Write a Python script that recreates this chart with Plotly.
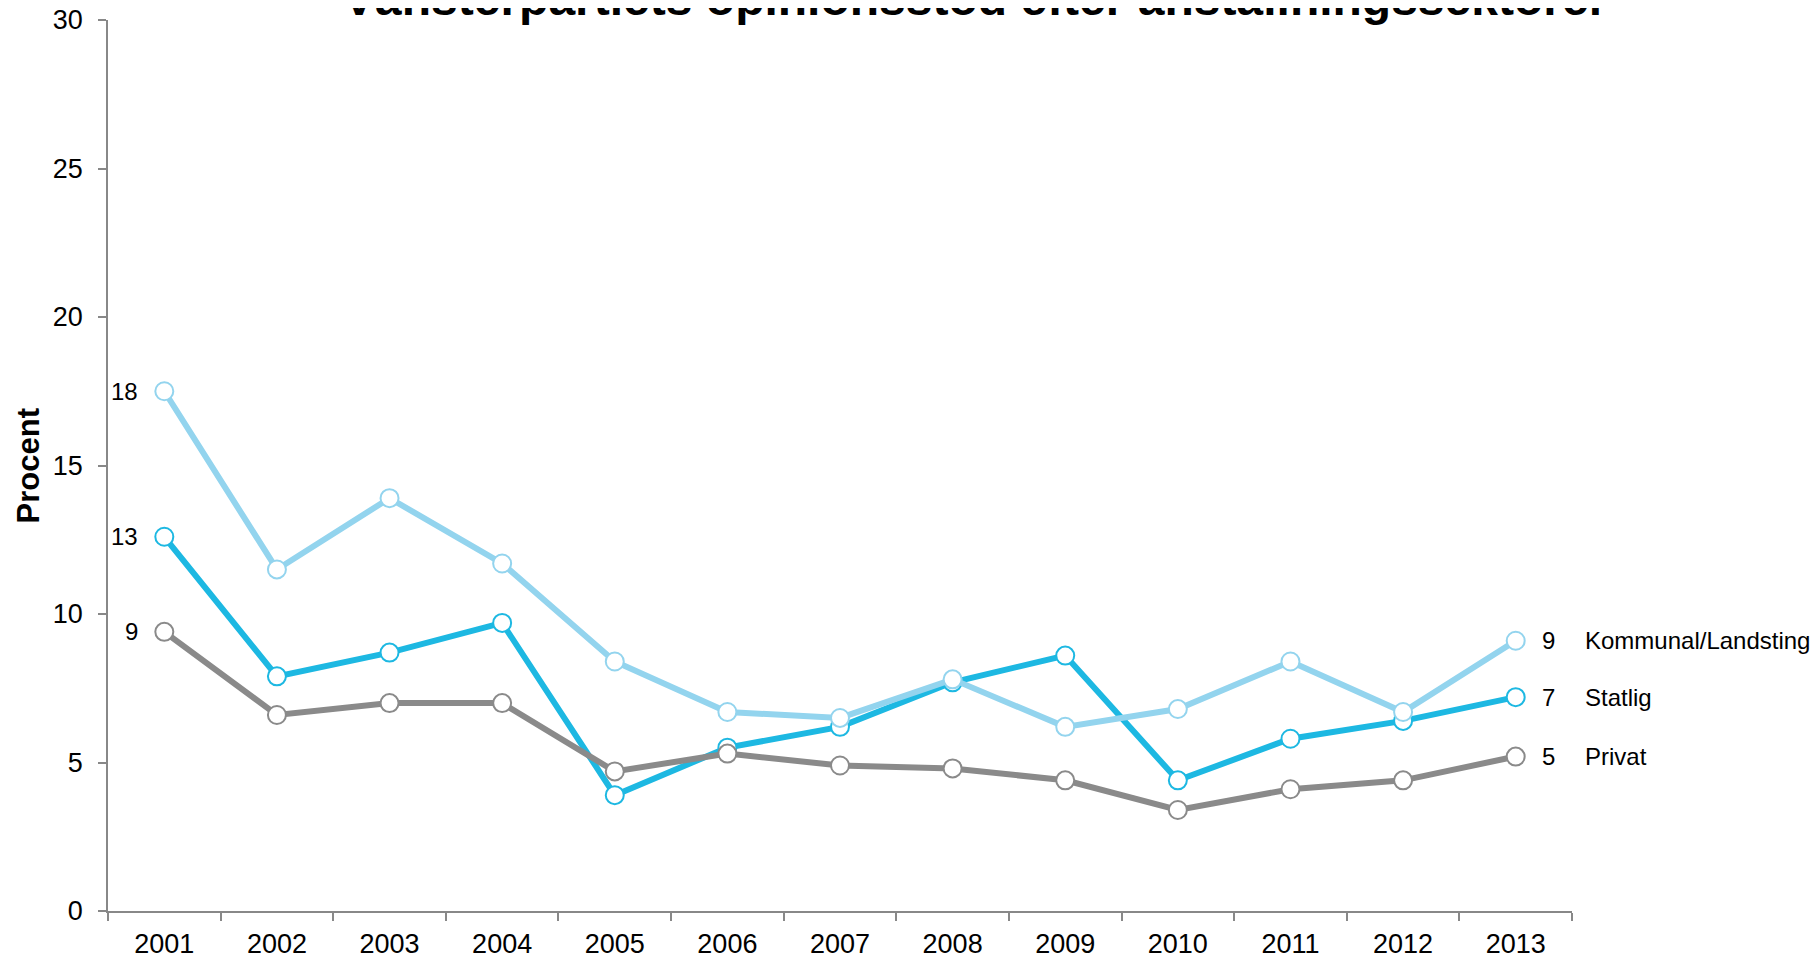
import plotly.graph_objects as go

years = [str(y) for y in range(2001, 2014)]

kommunal = [17.5, 11.5, 13.9, 11.7, 8.4, 6.7, 6.5, 7.8, 6.2, 6.8, 8.4, 6.7, 9.1]
statlig = [12.6, 7.9, 8.7, 9.7, 3.9, 5.5, 6.2, 7.7, 8.6, 4.4, 5.8, 6.4, 7.2]
privat = [9.4, 6.6, 7.0, 7.0, 4.7, 5.3, 4.9, 4.8, 4.4, 3.4, 4.1, 4.4, 5.2]

series_names = ['Kommunal/Landsting', 'Statlig', 'Privat']
start_labels = ['18', '13', '9']
end_labels = ['9', '7', '5']

colors = {'Kommunal/Landsting': '#93D4EE', 'Statlig': '#1DB8E2', 'Privat': '#8A8A8A'}
values = {'Kommunal/Landsting': kommunal, 'Statlig': statlig, 'Privat': privat}

FONT = 'Liberation Sans, Arial, sans-serif'

fig = go.Figure()

# ordning: Statlig underst, Privat överst
for name in ['Statlig', 'Kommunal/Landsting', 'Privat']:
    c = colors[name]
    fig.add_trace(go.Scatter(
        x=years, y=values[name], name=name, mode='lines+markers',
        line=dict(color=c, width=6),
        marker=dict(symbol='circle', size=18, color='white', line=dict(color=c, width=2)),
        showlegend=False, cliponaxis=False,
    ))

# kategori-axel: annoteringar placeras med index
first, last = 0, len(years) - 1
for i, name in enumerate(series_names):
    v = values[name]
    fig.add_annotation(x=first, y=v[0], text=start_labels[i], showarrow=False,
                       xanchor='right', yanchor='middle', xshift=-24,
                       font=dict(size=24, color='black', family=FONT))
    fig.add_annotation(x=last, y=v[-1], text=end_labels[i], showarrow=False,
                       xanchor='left', yanchor='middle', xshift=24,
                       font=dict(size=24, color='black', family=FONT))
    fig.add_annotation(x=last, y=v[-1], text=name, showarrow=False,
                       xanchor='left', yanchor='middle', xshift=67,
                       font=dict(size=24, color='black', family=FONT))

fig.add_annotation(xref='paper', yref='paper', x=0.592, y=0.992, yanchor='bottom', xanchor='center',
                   text='<b>Vänsterpartiets opinionsstöd efter anställningssektorer</b>',
                   showarrow=False, font=dict(size=48, color='black', family=FONT))

fig.add_annotation(xref='paper', yref='paper', x=-0.054, y=0.5, xanchor='center', yanchor='middle',
                   text='<b>Procent</b>', textangle=-90, showarrow=False,
                   font=dict(size=31, color='black', family=FONT))

fig.update_xaxes(type='category', range=[-0.5, 12.5], showgrid=False, zeroline=False,
                 showline=True, linecolor='#888888', linewidth=1.6, automargin=False,
                 ticks='outside', tickson='boundaries', ticklen=8, tickcolor='#888888', tickwidth=1.6,
                 ticklabelstandoff=8, ticklabeloverflow='allow',
                 tickfont=dict(size=27, color='black', family=FONT))
fig.update_yaxes(range=[0, 30], dtick=5, showgrid=False, zeroline=False,
                 showline=True, linecolor='#888888', linewidth=1.6, automargin=False,
                 ticks='outside', ticklen=8, tickcolor='#888888', tickwidth=1.6,
                 ticklabelstandoff=10, ticklabeloverflow='allow',
                 tickfont=dict(size=27, color='black', family=FONT))

# sidan har 8 px marginal i body, därför 1810x947
fig.update_layout(width=1810, height=947, plot_bgcolor='white', paper_bgcolor='white',
                  margin=dict(l=100, r=246, t=12, b=44),
                  font=dict(family=FONT))

fig.write_html('out.html')
